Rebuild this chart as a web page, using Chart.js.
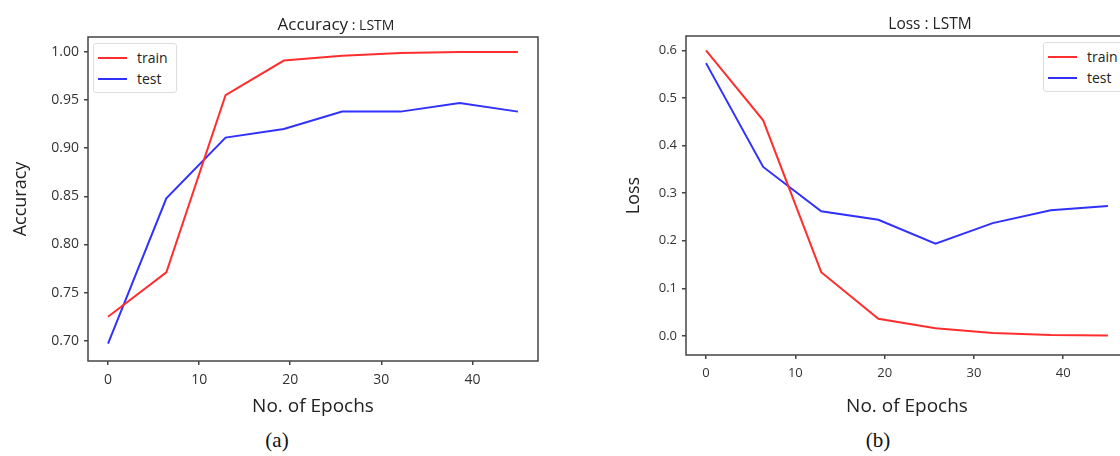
<!DOCTYPE html>
<html>
<head>
<meta charset="utf-8">
<script src="https://cdn.jsdelivr.net/npm/chart.js@4"></script>
<style>
  body { margin: 0; width: 1120px; height: 456px; overflow: hidden; background: #fff; position: relative; font-family: "Open Sans", sans-serif; }
  canvas { position: absolute; top: 0; }
  .ttl { position: absolute; color: #222; white-space: nowrap; transform: translate(-50%, -50%); }
  .cap { position: absolute; font-family: "Liberation Serif", serif; font-size: 21px; color: #111; transform: translate(-50%, -50%); }
  .lgd { position: absolute; border: 1px solid #ddd; border-radius: 3px; background: #fff; font-size: 14px; color: #222; padding: 3px 0; }
  .lgd div { display: flex; align-items: center; height: 21px; }
  .lgd span.sw { display: inline-block; width: 29px; height: 2px; margin: 0 10px 0 4px; }
</style>
</head>
<body>
<canvas id="acc" width="560" height="420" style="left:0;width:560px;height:420px"></canvas>
<canvas id="loss" width="580" height="420" style="left:560px;width:580px;height:420px"></canvas>

<div class="ttl" style="left:336px;top:23px"><span style="font-size:17px">Accuracy</span><span style="font-size:14px"> : LSTM</span></div>
<div class="ttl" style="left:930px;top:23px;font-size:15.5px">Loss : LSTM</div>
<div class="cap" style="left:277px;top:440px">(a)</div>
<div class="cap" style="left:878px;top:440px">(b)</div>
<div class="lgd" id="lgdAcc" style="left:93px;top:43px;width:82px"></div>
<div class="lgd" id="lgdLoss" style="left:1043px;top:42px;width:90px"></div>

<script>
// epochs
const epochs = [0, 6.4, 12.9, 19.3, 25.7, 32.1, 38.6, 45];
const seriesNames = ["train", "test"];

const accTrain = [0.725, 0.771, 0.955, 0.991, 0.996, 0.999, 1.000, 1.000];
const accTest  = [0.697, 0.848, 0.911, 0.920, 0.938, 0.938, 0.947, 0.938];

const lossTrain = [0.600, 0.453, 0.134, 0.036, 0.016, 0.006, 0.002, 0.001];
const lossTest  = [0.573, 0.355, 0.262, 0.244, 0.194, 0.237, 0.264, 0.273];

const colors = ["#ff2e2e", "#3030ff"];

// full box around the plot, like matplotlib
const frame = {
  id: 'frame',
  afterDraw(chart) {
    const a = chart.chartArea, c = chart.ctx;
    c.save();
    c.strokeStyle = '#444';
    c.lineWidth = 1.5;
    c.strokeRect(a.left, a.top, a.right - a.left, a.bottom - a.top);
    c.restore();
  }
};

function pts(ys) {
  return ys.map((y, i) => ({ x: epochs[i], y: y }));
}

function makeChart(id, cfg) {
  const tickFont = { family: "Open Sans", size: cfg.tickSize };
  return new Chart(document.getElementById(id), {
    type: 'line',
    data: {
      datasets: cfg.series.map((s, i) => ({
        label: seriesNames[i],
        data: pts(s),
        borderColor: colors[i],
        borderWidth: 2,
        pointRadius: 0,
        tension: 0
      }))
    },
    options: {
      responsive: false,
      animation: false,
      layout: { padding: { top: cfg.top, right: cfg.right, left: 0, bottom: 0 } },
      plugins: { legend: { display: false }, tooltip: { enabled: false } },
      scales: {
        x: {
          type: 'linear',
          min: cfg.xMin, max: cfg.xMax,
          afterFit: s => { s.height = cfg.xH; },
          border: { display: false },
          grid: { drawOnChartArea: false, drawTicks: true, tickLength: 4, color: '#444', lineWidth: 1.5 },
          ticks: { stepSize: 10, includeBounds: false, color: '#333', font: tickFont, padding: cfg.xPad, maxRotation: 0 },
          title: { display: true, text: 'No. of Epochs', color: '#222', font: { family: "Open Sans", size: 19 }, padding: { top: 0, bottom: 2 } }
        },
        y: {
          min: cfg.yMin, max: cfg.yMax,
          afterFit: s => { s.width = cfg.yW; },
          border: { display: false },
          grid: { drawOnChartArea: false, drawTicks: true, tickLength: 4, color: '#444', lineWidth: 1.5 },
          ticks: { stepSize: cfg.yStep, includeBounds: false, color: '#333', font: tickFont, padding: cfg.yPad,
                   callback: v => v.toFixed(cfg.dec) },
          title: { display: true, text: cfg.yTitle, color: '#222', font: { family: "Open Sans", size: 18 }, padding: { top: cfg.yTitlePad, bottom: 0 } }
        }
      }
    },
    plugins: [frame]
  });
}

function legend(id) {
  const el = document.getElementById(id);
  seriesNames.forEach((n, i) => {
    const row = document.createElement('div');
    row.innerHTML = '<span class="sw" style="background:' + colors[i] + '"></span>' + n;
    el.appendChild(row);
  });
}

makeChart('acc', {
  series: [accTrain, accTest],
  top: 37, right: 22, xH: 59, yW: 88,
  xMin: -2.2, xMax: 47.2, yMin: 0.679, yMax: 1.0155, yStep: 0.05, dec: 2,
  tickSize: 14, xPad: 7, yPad: 5, yTitle: 'Accuracy', yTitlePad: 10
});

makeChart('loss', {
  series: [lossTrain, lossTest],
  top: 36, right: 12, xH: 65, yW: 126,
  xMin: -2.24, xMax: 47.25, yMin: -0.04, yMax: 0.63, yStep: 0.1, dec: 1,
  tickSize: 13, xPad: 6, yPad: 5, yTitle: 'Loss', yTitlePad: 63
});

legend('lgdAcc');
legend('lgdLoss');
</script>
</body>
</html>
